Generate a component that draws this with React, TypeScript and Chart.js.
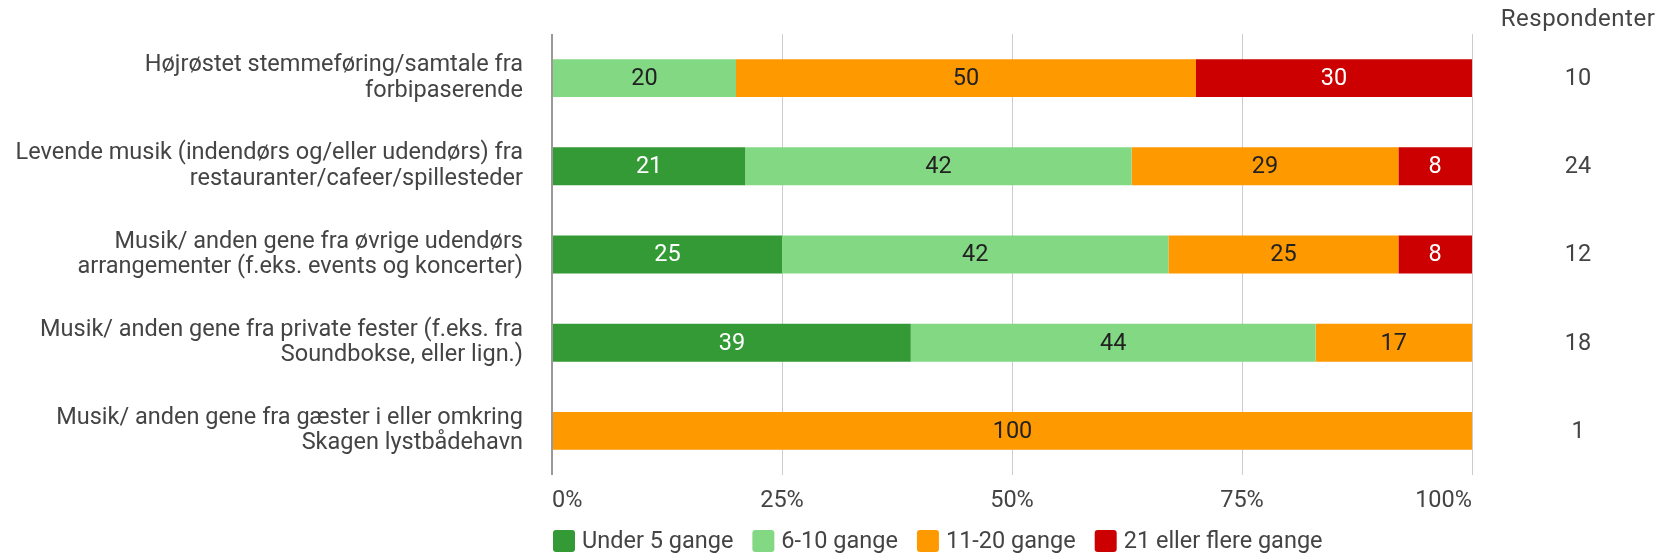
import React, { useEffect, useRef } from "react";
import { Chart, registerables } from "chart.js";

Chart.register(...registerables);

const categories: string[][] = [
  ["Højrøstet stemmeføring/samtale fra", "forbipaserende"],
  ["Levende musik (indendørs og/eller udendørs) fra", "restauranter/cafeer/spillesteder"],
  ["Musik/ anden gene fra øvrige udendørs", "arrangementer (f.eks. events og koncerter)"],
  ["Musik/ anden gene fra private fester (f.eks. fra", "Soundbokse, eller lign.)"],
  ["Musik/ anden gene fra gæster i eller omkring", "Skagen lystbådehavn"],
];

const under5 = [0, 21, 25, 39, 0];
const sixToTen = [20, 42, 42, 44, 0];
const elevenToTwenty = [50, 29, 25, 17, 100];
const twentyOnePlus = [30, 8, 8, 0, 0];

const respondents = [10, 24, 12, 18, 1];
const respondentsTitle = "Respondenter";

const seriesNames = ["Under 5 gange", "6-10 gange", "11-20 gange", "21 eller flere gange"];
const seriesColors = ["#339a35", "#83d883", "#ff9900", "#cc0000"];
const labelColors = ["#ffffff", "#222222", "#222222", "#ffffff"];

const axisTicks = [0, 25, 50, 75, 100];

const FONT = "Roboto";
const SIZE = 23.5;
const TEXT = "#444444";

// Writes each segment's value in the middle of its bar piece
const segmentLabels = {
  id: "segmentLabels",
  afterDatasetsDraw(chart: any) {
    const { ctx } = chart;
    ctx.save();
    ctx.font = `${SIZE}px ${FONT}`;
    ctx.textAlign = "center";
    ctx.textBaseline = "middle";
    chart.data.datasets.forEach((ds: any, di: number) => {
      const meta = chart.getDatasetMeta(di);
      meta.data.forEach((bar: any, i: number) => {
        const v = ds.data[i];
        if (!v) return;
        const { x, y, base } = bar.getProps(["x", "y", "base"], true);
        ctx.fillStyle = labelColors[di];
        ctx.fillText(String(v), (x + base) / 2, y + 1);
      });
    });
    ctx.restore();
  },
};

// Respondent counts in a column to the right of the plot
const respondentColumn = {
  id: "respondentColumn",
  afterDraw(chart: any) {
    const { ctx, chartArea } = chart;
    const yScale = chart.scales.y;
    const cx = chartArea.right + 106;
    ctx.save();
    ctx.textAlign = "center";
    ctx.textBaseline = "middle";
    ctx.fillStyle = TEXT;
    ctx.font = `24px ${FONT}`;
    (ctx as any).letterSpacing = "0.5px";
    ctx.fillText(respondentsTitle, cx, 20);
    (ctx as any).letterSpacing = "0px";
    ctx.font = `${SIZE}px ${FONT}`;
    respondents.forEach((n, i) => {
      ctx.fillText(String(n), cx, yScale.getPixelForValue(i) + 1);
    });
    ctx.restore();
  },
};

// Legend row under the axis, starting at the plot's left edge
const bottomLegend = {
  id: "bottomLegend",
  afterDraw(chart: any) {
    const { ctx, chartArea } = chart;
    const box = 22;
    const cy = 541;
    let x = chartArea.left + 1;
    ctx.save();
    ctx.font = `${SIZE}px ${FONT}`;
    ctx.textAlign = "left";
    ctx.textBaseline = "middle";
    chart.data.datasets.forEach((ds: any) => {
      ctx.fillStyle = ds.backgroundColor;
      ctx.beginPath();
      ctx.roundRect(x, cy - box / 2, box, box, 3);
      ctx.fill();
      ctx.fillStyle = TEXT;
      ctx.fillText(ds.label, x + box + 7, cy + 1);
      x += box + 7 + ctx.measureText(ds.label).width + 19;
    });
    ctx.restore();
  },
};

export default function App() {
  const canvasRef = useRef<HTMLCanvasElement | null>(null);

  useEffect(() => {
    if (!canvasRef.current) return;
    const values = [under5, sixToTen, elevenToTwenty, twentyOnePlus];
    const chart = new Chart(canvasRef.current, {
      type: "bar",
      data: {
        labels: categories,
        datasets: values.map((data, i) => ({
          label: seriesNames[i],
          data,
          backgroundColor: seriesColors[i],
          borderWidth: 0,
          barPercentage: 0.43,
          categoryPercentage: 1,
        })),
      },
      options: {
        indexAxis: "y",
        responsive: false,
        animation: false,
        layout: { padding: { top: 34, right: 185, left: 0, bottom: 0 } },
        plugins: {
          legend: { display: false },
          tooltip: { enabled: false },
        },
        scales: {
          x: {
            stacked: true,
            min: 0,
            max: 100,
            afterBuildTicks(scale: any) {
              scale.ticks = axisTicks.map((value) => ({ value }));
            },
            afterFit(scale: any) {
              scale.height = 79;
              scale.paddingLeft = 0;
              scale.paddingRight = 0;
            },
            border: { display: false },
            grid: {
              drawTicks: false,
              color: (c: any) => (c.tick && c.tick.value === 0 ? "#999999" : "#cccccc"),
              lineWidth: (c: any) => (c.tick && c.tick.value === 0 ? 2 : 1),
            },
            ticks: {
              align: "inner",
              padding: 12,
              color: TEXT,
              font: { family: FONT, size: SIZE },
              callback: (v: any) => `${v}%`,
            },
          },
          y: {
            stacked: true,
            afterFit(scale: any) {
              scale.width = 552;
              scale.paddingTop = 0;
              scale.paddingBottom = 0;
            },
            border: { display: false },
            grid: { display: false, drawTicks: false },
            ticks: {
              padding: 29,
              color: TEXT,
              font: { family: FONT, size: SIZE, lineHeight: 1.08 },
            },
          },
        },
      },
      plugins: [segmentLabels, respondentColumn, bottomLegend],
    });
    return () => chart.destroy();
  }, []);

  return (
    <div style={{ position: "absolute", left: 0, top: 0, width: 1657, height: 554, background: "#fff" }}>
      <canvas ref={canvasRef} width={1657} height={554} style={{ display: "block" }} />
    </div>
  );
}
